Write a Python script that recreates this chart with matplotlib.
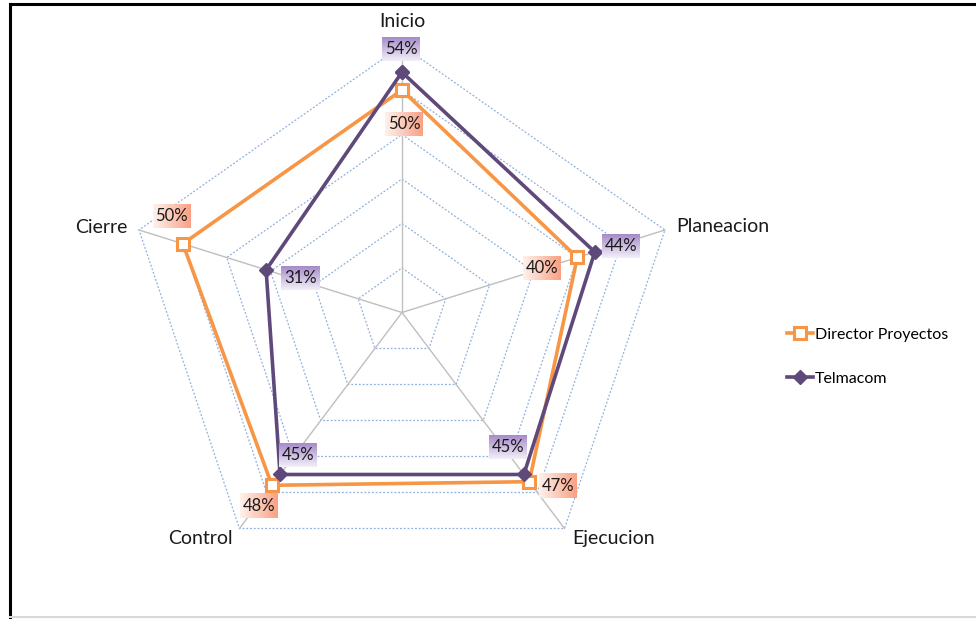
import numpy as np
import matplotlib
matplotlib.use('Agg')
import matplotlib.pyplot as plt
from matplotlib.lines import Line2D
from matplotlib.colors import LinearSegmentedColormap

plt.rcParams['font.family'] = ['Lato', 'DejaVu Sans']

# data
categories = ['Inicio', 'Planeacion', 'Ejecucion', 'Control', 'Cierre']
director = [50, 40, 47, 48, 50]
telmacom = [54, 44, 45, 45, 31]
series_names = ['Director Proyectos', 'Telmacom']
rings = [10, 20, 30, 40, 50, 60]

# label offsets in pixels (dx, dy) from each point
dir_offsets = [(2, -34), (-35, -11), (29, -4), (-13, -21), (-11, 28)]
tel_offsets = [(-1, 23), (26, 6), (-16, 27), (18, 19), (34, -8)]
cat_offsets = [(0, 24, 'center'), (11, 3, 'left'), (8, -10, 'left'),
               (-7, -10, 'right'), (-12, 2, 'right')]

ORANGE = '#F79646'
PURPLE = '#5F497A'

n = len(categories)
angles = np.arange(n) * 2 * np.pi / n


def to_xy(vals):
    vals = np.asarray(vals, dtype=float)
    return vals * np.sin(angles), vals * np.cos(angles)


fig = plt.figure(figsize=(9.76, 6.19), dpi=100)
ax = fig.add_axes([0.08135, 0.0207, 0.6610, 0.9633])
ax.set_xlim(-70, 70)
ax.set_ylim(-66, 68)
ax.axis('off')

# grid pentagons
for r in rings:
    gx, gy = to_xy([r] * n)
    ax.plot(np.append(gx, gx[0]), np.append(gy, gy[0]), color='#8FB0DC',
            lw=0.9, ls=(0, (1.5, 1.5)), zorder=1)
# spokes
ox, oy = to_xy([rings[-1]] * n)
for x, y in zip(ox, oy):
    ax.plot([0, x], [0, y], color='#BFBFBF', lw=1.0, zorder=1)

# series
dx_, dy_ = to_xy(director)
tx_, ty_ = to_xy(telmacom)
ax.plot(np.append(dx_, dx_[0]), np.append(dy_, dy_[0]), color=ORANGE, lw=2.6,
        marker='s', ms=8, mfc='white', mec=ORANGE, mew=2.2, zorder=3,
        label=series_names[0])
ax.plot(np.append(tx_, tx_[0]), np.append(ty_, ty_[0]), color=PURPLE, lw=2.6,
        marker='D', ms=7, mfc=PURPLE, mec=PURPLE, zorder=4,
        label=series_names[1])

# category labels
for i, cat in enumerate(categories):
    ddx, ddy, ha = cat_offsets[i]
    ax.annotate(cat, (ox[i], oy[i]), xytext=(ddx, ddy), textcoords='offset pixels',
                ha=ha, va='center', fontsize=14, color='#1a1a1a')

# gradient data labels
dir_cmap = LinearSegmentedColormap.from_list('d', ['#FFF1EC', '#F9A184'])
tel_cmap = LinearSegmentedColormap.from_list('t', ['#A58BC9', '#F3EFF8'])
inv = ax.transData.inverted()
box_w, box_h = 38, 24


def add_label(x, y, val, off, cmap, horizontal):
    px, py = ax.transData.transform((x, y))
    cx, cy = px + off[0], py + off[1]
    x0, y0 = inv.transform((cx - box_w / 2, cy - box_h / 2))
    x1, y1 = inv.transform((cx + box_w / 2, cy + box_h / 2))
    if horizontal:
        grad = np.linspace(0, 1, 64).reshape(1, -1)
    else:
        grad = np.linspace(0, 1, 64).reshape(-1, 1)
    ax.imshow(grad, cmap=cmap, extent=(x0, x1, y0, y1), origin='upper',
              aspect='auto', zorder=5, interpolation='bilinear')
    tx, ty = inv.transform((cx, cy))
    ax.text(tx, ty, f'{val}%', ha='center', va='center', fontsize=12,
            color='#1a1a1a', zorder=6)


for i in range(n):
    add_label(dx_[i], dy_[i], director[i], dir_offsets[i], dir_cmap, True)
    add_label(tx_[i], ty_[i], telmacom[i], tel_offsets[i], tel_cmap, False)

ax.set_xlim(-70, 70)
ax.set_ylim(-66, 68)

ax.legend(loc='upper left', bbox_to_anchor=(0.8, 0.481), bbox_transform=fig.transFigure,
          frameon=False, fontsize=11.5, labelspacing=1.85, handlelength=1.6,
          handletextpad=0.15, borderaxespad=0)

# chart frame
fig.add_artist(Line2D([0.0105, 1.0], [0.9935, 0.9935], color='black', lw=2.2,
                      transform=fig.transFigure))
fig.add_artist(Line2D([0.0105, 0.0105], [0.9935, 0.0], color='black', lw=2.2,
                      transform=fig.transFigure))
fig.add_artist(Line2D([0.0105, 1.0], [0.004, 0.004], color='#D9D9D9', lw=1.5,
                      transform=fig.transFigure))

fig.savefig('out.png', dpi=100)
